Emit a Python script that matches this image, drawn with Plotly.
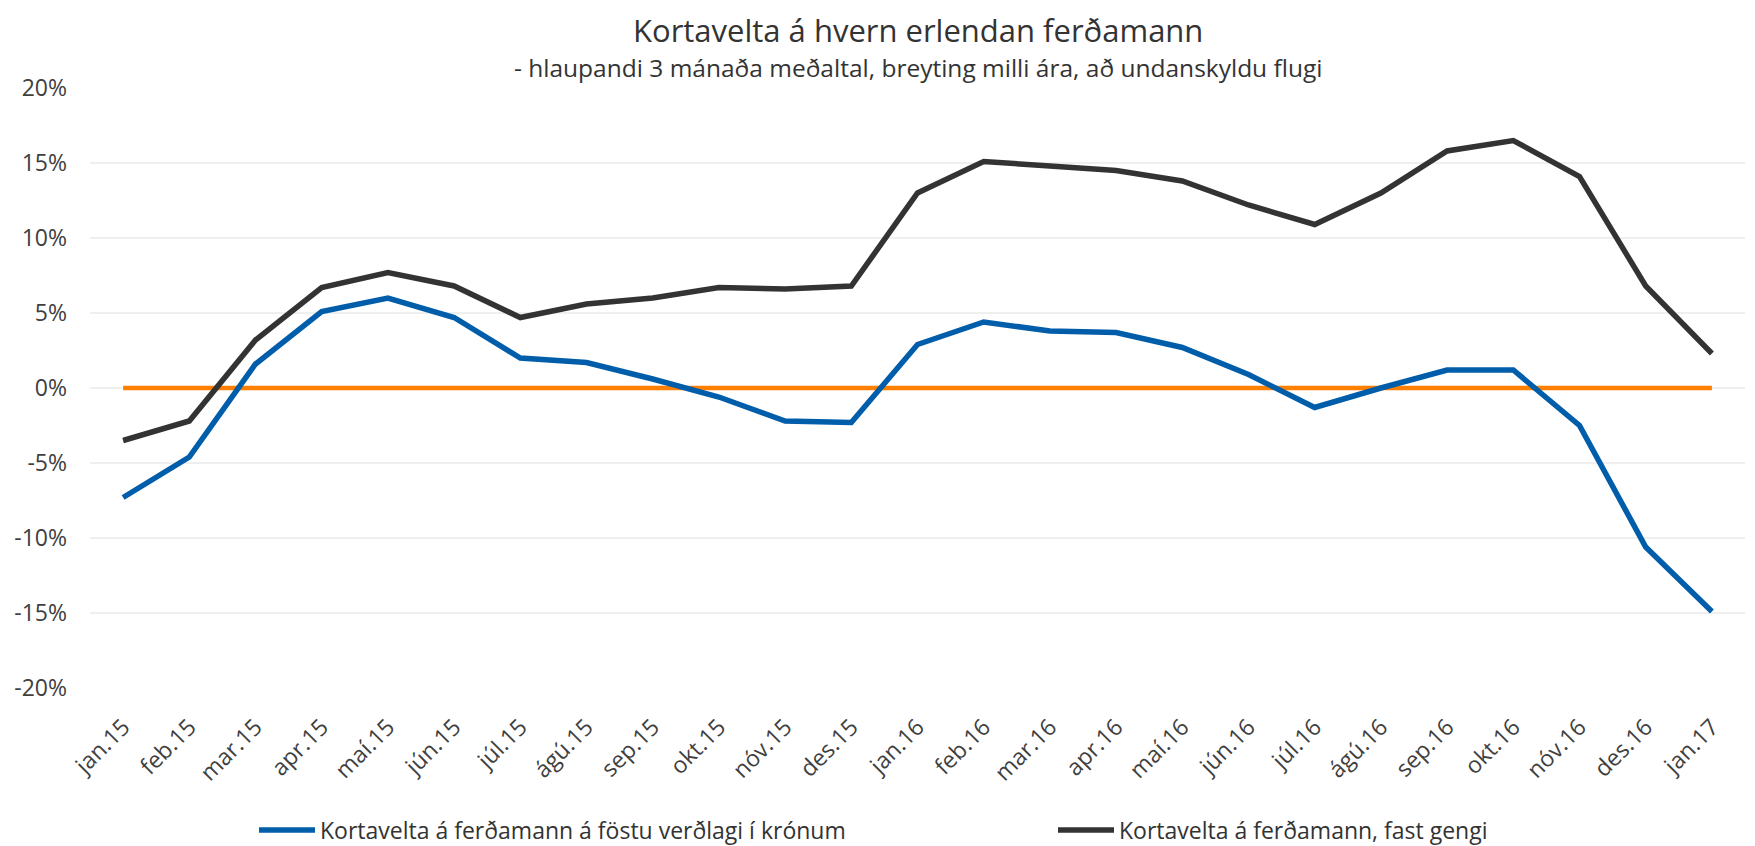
import plotly.graph_objects as go

months = ["jan.15", "feb.15", "mar.15", "apr.15", "maí.15", "jún.15", "júl.15", "ágú.15",
          "sep.15", "okt.15", "nóv.15", "des.15", "jan.16", "feb.16", "mar.16", "apr.16",
          "maí.16", "jún.16", "júl.16", "ágú.16", "sep.16", "okt.16", "nóv.16", "des.16", "jan.17"]

fast_verdlag = [-7.3, -4.6, 1.6, 5.1, 6.0, 4.7, 2.0, 1.7, 0.6, -0.6, -2.2, -2.3, 2.9, 4.4,
                3.8, 3.7, 2.7, 0.9, -1.3, 0.0, 1.2, 1.2, -2.5, -10.6, -14.9]

fast_gengi = [-3.5, -2.2, 3.2, 6.7, 7.7, 6.8, 4.7, 5.6, 6.0, 6.7, 6.6, 6.8, 13.0, 15.1,
              14.8, 14.5, 13.8, 12.2, 10.9, 13.0, 15.8, 16.5, 14.1, 6.8, 2.3]

zero_line = [0.0] * len(months)

name_blue = "Kortavelta á ferðamann á föstu verðlagi í krónum"
name_black = "Kortavelta á ferðamann, fast gengi"

y_ticks = [-20, -15, -10, -5, 0, 5, 10, 15, 20]
y_tick_text = [f"{v}%" for v in y_ticks]

title_text = "Kortavelta á hvern erlendan ferðamann"
subtitle_text = "- hlaupandi 3 mánaða meðaltal, breyting milli ára, að undanskyldu flugi"

FONT = "Open Sans"
# the page body adds an 8px margin, so the figure is laid out 8px smaller
W, H = 1747, 838
ML, MR, MT, MB = 82, 10, 80, 158
PH = H - MT - MB

fig = go.Figure()
fig.add_trace(go.Scatter(x=months, y=zero_line, mode="lines", showlegend=False,
                         line=dict(color="#FF7F00", width=4.5), hoverinfo="skip"))
fig.add_trace(go.Scatter(x=months, y=fast_verdlag, mode="lines", name=name_blue,
                         line=dict(color="#005DAA", width=5.5)))
fig.add_trace(go.Scatter(x=months, y=fast_gengi, mode="lines", name=name_black,
                         line=dict(color="#333333", width=5.5)))

fig.update_layout(
    width=W, height=H,
    paper_bgcolor="white", plot_bgcolor="white",
    margin=dict(l=ML, r=MR, t=MT, b=MB, autoexpand=False),
    font=dict(family=FONT, color="#404040", size=23),
    legend=dict(orientation="h", xref="container", yref="container",
                x=246 / W, y=(H - 822) / H, yanchor="middle", xanchor="left",
                itemwidth=56, entrywidth=728, entrywidthmode="pixels",
                font=dict(size=23, color="#333333"), bgcolor="rgba(0,0,0,0)"),
    showlegend=True,
)
fig.add_annotation(text=title_text, xref="paper", yref="paper",
                   x=0.5, y=1 + (MT - 22) / PH, yanchor="middle", showarrow=False,
                   font=dict(size=31, color="#333333"))
fig.add_annotation(text=subtitle_text, xref="paper", yref="paper",
                   x=0.5, y=1 + (MT - 60) / PH, yanchor="middle", showarrow=False,
                   font=dict(size=24.5, color="#333333"))

fig.update_xaxes(type="category", tickangle=-45, showgrid=False, showline=False, ticks="",
                 range=[-0.5, len(months) - 0.5], automargin=False,
                 ticklabelstandoff=20,
                 tickfont=dict(size=23, color="#404040"))
fig.update_yaxes(range=[-20, 20], tickvals=y_ticks, ticktext=y_tick_text,
                 showgrid=True, gridcolor="#EFEFEF", gridwidth=2, zeroline=False,
                 showline=False, ticks="", ticklabelstandoff=22, automargin=False,
                 tickfont=dict(size=23, color="#404040"))

fig.write_html("out.html")
